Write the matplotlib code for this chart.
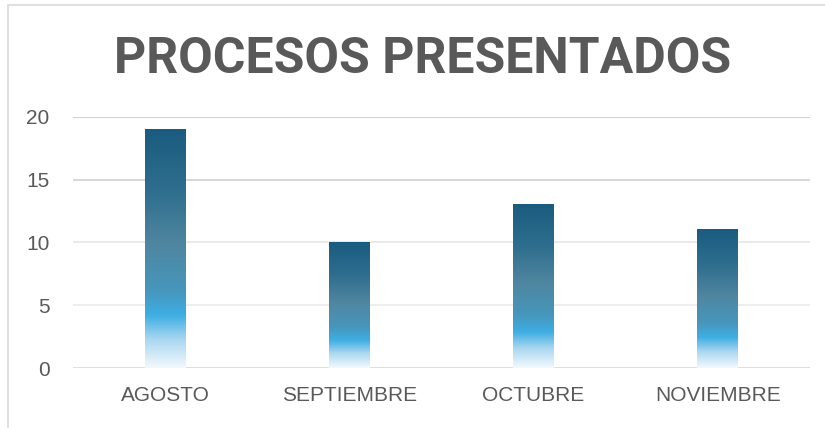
import numpy as np
import matplotlib
matplotlib.use("Agg")
import matplotlib.pyplot as plt
from matplotlib.colors import LinearSegmentedColormap
from matplotlib.patches import Rectangle

meses = ["AGOSTO", "SEPTIEMBRE", "OCTUBRE", "NOVIEMBRE"]
procesos = [19, 10, 13, 11]
yticks = [0, 5, 10, 15, 20]
titulo = "PROCESOS PRESENTADOS"

# gradient of each bar, from bottom (0) to top (1)
cmap = LinearSegmentedColormap.from_list("barra", [
    (0.0, "#f2f9fd"),
    (0.12, "#a8d6f0"),
    (0.22, "#3eaee3"),
    (0.32, "#4697bd"),
    (0.52, "#4f86a0"),
    (0.75, "#2e6d8d"),
    (1.0, "#1a5c7f"),
])

fig = plt.figure(figsize=(8.25, 4.28), dpi=100)
ax = fig.add_axes([0.0885, 0.140, 0.893, 0.587])

ancho = 0.22
grad = np.linspace(0, 1, 256).reshape(-1, 1)
for i, v in enumerate(procesos):
    ax.imshow(grad, cmap=cmap, origin="lower", aspect="auto",
              extent=(i - ancho / 2, i + ancho / 2, 0, v), zorder=3,
              interpolation="bilinear")

ax.set_xlim(-0.5, len(meses) - 0.5)
ax.set_ylim(0, 20)

grid_cols = ["#d9d9d9", "#ebebeb", "#e6e6e6", "#cfcfcf", "#c8c8c8"]
for t, c in zip(yticks, grid_cols):
    ax.axhline(t, color=c, lw=1.2, zorder=1)

for s in ax.spines.values():
    s.set_visible(False)

ax.set_xticks(range(len(meses)))
ax.set_xticklabels(meses, fontsize=15, color="#595959", family="Liberation Sans")
ax.set_yticks(yticks)
ax.set_yticklabels([str(t) for t in yticks], fontsize=15, color="#595959",
                   family="Liberation Sans")
ax.tick_params(length=0)
ax.tick_params(axis="x", pad=13)
ax.tick_params(axis="y", pad=17)

fig.text(0.512, 0.862, titulo, ha="center", va="center", fontsize=36,
         fontweight="bold", color="#595959", family="Roboto")

# chart area border (only top/left visible in the crop)
fig.add_artist(Rectangle((8 / 825, -0.1), 1.2, 1.1 - 5 / 428, transform=fig.transFigure,
                         fill=False, edgecolor="#d9d9d9", lw=1.2))

fig.savefig("out.png", dpi=100)
